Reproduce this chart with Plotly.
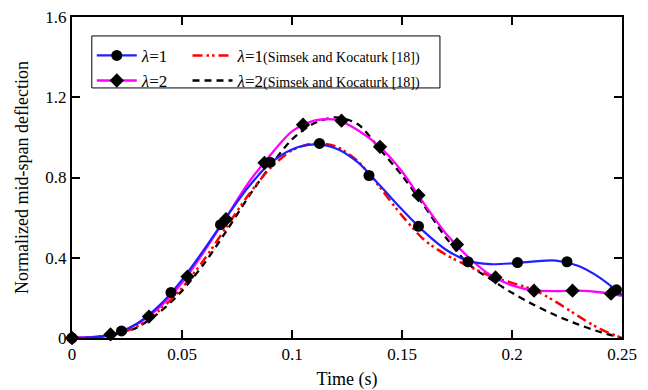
import plotly.graph_objects as go

# ---------------- data ----------------
t_curve = [0, 0.01, 0.02, 0.03, 0.04, 0.05, 0.06, 0.07, 0.08, 0.09, 0.10, 0.11, 0.12,
           0.13, 0.14, 0.15, 0.16, 0.17, 0.18, 0.19, 0.20, 0.21, 0.22, 0.23, 0.24, 0.25]

lam1_present = [0, 0.004, 0.022, 0.075, 0.165, 0.29, 0.44, 0.60, 0.75, 0.87, 0.94, 0.965, 0.945,
                0.875, 0.76, 0.64, 0.53, 0.44, 0.385, 0.368, 0.372, 0.382, 0.386, 0.36, 0.30, 0.215]
lam2_present = [0, 0.005, 0.025, 0.072, 0.155, 0.275, 0.43, 0.60, 0.77, 0.91, 1.03, 1.083, 1.088,
                1.035, 0.952, 0.83, 0.67, 0.52, 0.405, 0.315, 0.262, 0.237, 0.234, 0.236, 0.228, 0.21]
lam1_ref = [0, 0.003, 0.018, 0.06, 0.14, 0.25, 0.39, 0.55, 0.71, 0.845, 0.935, 0.97, 0.955,
            0.88, 0.75, 0.61, 0.49, 0.415, 0.36, 0.31, 0.275, 0.24, 0.18, 0.11, 0.045, 0.0]
lam2_ref = [0, 0.003, 0.015, 0.055, 0.13, 0.235, 0.37, 0.53, 0.70, 0.855, 0.99, 1.07, 1.10,
            1.065, 0.94, 0.81, 0.66, 0.50, 0.37, 0.295, 0.225, 0.165, 0.112, 0.068, 0.03, 0.0]

t_mark1 = [0, 0.0225, 0.045, 0.0675, 0.09, 0.1125, 0.135, 0.1575, 0.18, 0.2025, 0.225, 0.2475]
y_mark1 = [0, 0.035, 0.227, 0.565, 0.876, 0.97, 0.81, 0.557, 0.38, 0.376, 0.38, 0.24]
t_mark2 = [0, 0.0175, 0.035, 0.0525, 0.07, 0.0875, 0.105, 0.1225, 0.14, 0.1575, 0.175,
           0.1925, 0.21, 0.2275, 0.245]
y_mark2 = [0, 0.018, 0.107, 0.306, 0.592, 0.873, 1.063, 1.083, 0.953, 0.712, 0.466,
           0.302, 0.236, 0.236, 0.221]

x_ticks = [0, 0.05, 0.1, 0.15, 0.2, 0.25]
x_tick_text = ["0", "0.05", "0.1", "0.15", "0.2", "0.25"]
y_ticks = [0, 0.4, 0.8, 1.2, 1.6]
y_tick_text = ["0", "0.4", "0.8", "1.2", "1.6"]

FONT = "Liberation Serif"
SMALL = "<span style='font-size:14px;font-family:Liberation Serif'>(Simsek and Kocaturk [18])</span>"
names = ["<i>λ</i>=1", "<i>λ</i>=2", "<i>λ</i>=1" + SMALL, "<i>λ</i>=2" + SMALL]

BLUE = "#1f1fff"
MAG = "#ff00ff"
RED = "#ff0000"
BLK = "#000000"
RED_DASH = "10px,4px,2.5px,3px,2.5px,4px"
BLK_DASH = "7px,5px"

fig = go.Figure()

# reference curves (drawn first, underneath)
fig.add_trace(go.Scatter(x=t_curve, y=lam2_ref, mode="lines", showlegend=False,
                         line=dict(color=BLK, width=2.3, dash=BLK_DASH, shape="spline", smoothing=0.8)))
fig.add_trace(go.Scatter(x=t_curve, y=lam1_ref, mode="lines", showlegend=False,
                         line=dict(color=RED, width=2.5, dash=RED_DASH, shape="spline", smoothing=0.8)))
# present curves
fig.add_trace(go.Scatter(x=t_curve, y=lam2_present, mode="lines", showlegend=False,
                         line=dict(color=MAG, width=2.3, shape="spline", smoothing=0.8)))
fig.add_trace(go.Scatter(x=t_curve, y=lam1_present, mode="lines", showlegend=False,
                         line=dict(color=BLUE, width=2.2, shape="spline", smoothing=0.8)))
# markers
fig.add_trace(go.Scatter(x=t_mark2, y=y_mark2, mode="markers", showlegend=False, cliponaxis=False,
                         marker=dict(symbol="diamond", size=11, color=BLK)))
fig.add_trace(go.Scatter(x=t_mark1, y=y_mark1, mode="markers", showlegend=False, cliponaxis=False,
                         marker=dict(symbol="circle", size=11, color=BLK)))

# legend-only entries (two columns = two legends)
fig.add_trace(go.Scatter(x=[None], y=[None], mode="lines+markers", name=names[0], legend="legend",
                         line=dict(color=BLUE, width=2.2),
                         marker=dict(symbol="circle", size=11, color=BLK)))
fig.add_trace(go.Scatter(x=[None], y=[None], mode="lines+markers", name=names[1], legend="legend",
                         line=dict(color=MAG, width=2.3),
                         marker=dict(symbol="diamond", size=11, color=BLK)))
fig.add_trace(go.Scatter(x=[None], y=[None], mode="lines", name=names[2], legend="legend2",
                         line=dict(color=RED, width=2.5, dash=RED_DASH)))
fig.add_trace(go.Scatter(x=[None], y=[None], mode="lines", name=names[3], legend="legend2",
                         line=dict(color=BLK, width=2.3, dash=BLK_DASH)))

axis_common = dict(showgrid=False, zeroline=False, showline=True, linecolor="black", linewidth=2,
                   mirror="ticks", ticks="inside", ticklen=8, tickwidth=2, tickcolor="black",
                   automargin=False,
                   tickfont=dict(family=FONT, size=17, color="black"))

legend_common = dict(orientation="v", xanchor="left", yanchor="top", bgcolor="rgba(0,0,0,0)",
                     borderwidth=0, traceorder="normal", itemwidth=40,
                     font=dict(family=FONT, size=17, color="black"))

fig.update_layout(
    width=648, height=390,
    margin=dict(l=72, r=26, t=17, b=52, autoexpand=False),
    paper_bgcolor="white", plot_bgcolor="white",
    font=dict(family=FONT, size=17, color="black"),
    xaxis=dict(range=[0, 0.25], tickvals=x_ticks, ticktext=x_tick_text,
               title=dict(text="Time (s)", font=dict(family=FONT, size=18), standoff=10),
               **axis_common),
    yaxis=dict(range=[0, 1.6], tickvals=y_ticks, ticktext=y_tick_text,
               title=dict(text="Normalized mid-span deflection", font=dict(family=FONT, size=18), standoff=12),
               **axis_common),
    legend=dict(x=0.036, y=0.935, **legend_common),
    legend2=dict(x=0.21, y=0.935, **legend_common),
    shapes=[dict(type="rect", xref="paper", yref="paper", x0=0.036, x1=0.669, y0=0.779, y1=0.941,
                 line=dict(color="black", width=1), fillcolor="white", layer="above")],
)

fig.write_html("out.html")
